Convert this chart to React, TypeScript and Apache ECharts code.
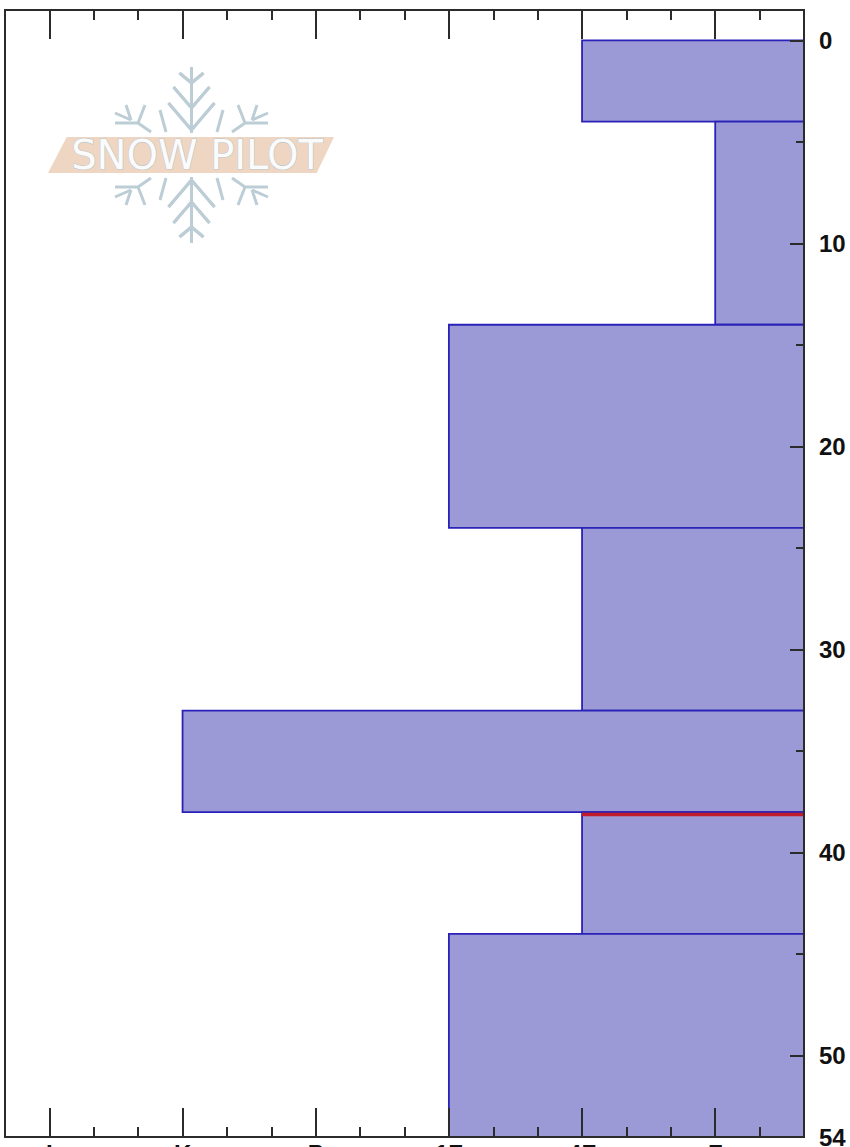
import React, { useEffect, useRef } from "react";
import * as echarts from "echarts";

// hardness scale: F=1, 4F=2, 1F=3, P=4, K=5, I=6 (minor ticks every third of a step)
const hardnessLabels = ["F", "4F", "1F", "P", "K", "I"];
const hardnessMajor = [1, 2, 3, 4, 5, 6];
const hardnessMinor = [1 / 3, 2 / 3, 4 / 3, 5 / 3, 7 / 3, 8 / 3, 10 / 3, 11 / 3, 13 / 3, 14 / 3, 16 / 3, 17 / 3, 19 / 3];
const hardnessMin = 1 / 3;
const hardnessMax = 19 / 3;

// layers: hardness, top depth, bottom depth
const layerHardness = [2, 1, 3, 2, 5, 2, 3];
const layerTop = [0, 4, 14, 24, 33, 38, 44];
const layerBottom = [4, 14, 24, 33, 38, 44, 54];

const depthLabels = [0, 10, 20, 30, 40, 50, 54];
const depthMajor = [0, 10, 20, 30, 40, 50];
const depthMinor = [5, 15, 25, 35, 45];
const depthMin = -1.5;
const depthMax = 54;

const criticalDepth = 38.12;
const criticalHardness = 2;

const FONT = "'Liberation Sans', Arial, sans-serif";
const AXIS_COLOR = "#2b2b2b";

// snowflake quarter, relative to its centre
const FLAKE = [
  [[0, -22], [0, -88]],
  [[-23, -52], [0, -25], [23, -52]],
  [[-18, -68], [0, -47], [18, -68]],
  [[-12, -82], [0, -72], [12, -82]],
  [[31.5, -45], [25.5, -23]],
  [[40.5, -23], [53.5, -32], [76.5, -32]],
  [[46.5, -50], [53.5, -32]],
  [[65.5, -50], [60.5, -35]],
  [[76.5, -42], [60.5, -35]],
];
const FLAKE_X = 191.5;
const FLAKE_Y = 155;

function flakeGroup(sx: number, sy: number) {
  return {
    type: "group",
    x: FLAKE_X,
    y: FLAKE_Y,
    scaleX: sx,
    scaleY: sy,
    silent: true,
    children: FLAKE.map((points) => ({
      type: "polyline",
      shape: { points },
      style: { stroke: "#bccdd6", lineWidth: 3, fill: "none" },
    })),
  };
}

function xAxisBase(position: string, values: number[], len: number, labels: boolean) {
  return {
    type: "value",
    position,
    inverse: true,
    min: hardnessMin,
    max: hardnessMax,
    z: 5,
    splitLine: { show: false },
    axisLine: { show: true, onZero: false, lineStyle: { color: AXIS_COLOR, width: 2 } },
    axisTick: { show: true, inside: true, length: len, customValues: values, lineStyle: { color: AXIS_COLOR, width: 2 } },
    axisLabel: labels
      ? {
          show: true,
          customValues: hardnessMajor,
          margin: 4,
          hideOverlap: false,
          color: "#111111",
          fontFamily: FONT,
          fontWeight: "bold",
          fontSize: 24,
          formatter: (v: number) => hardnessLabels[Math.round(v) - 1] ?? "",
        }
      : { show: false },
  };
}

function yAxisBase(position: string, values: number[], len: number, labels: boolean) {
  return {
    type: "value",
    position,
    inverse: true,
    min: depthMin,
    max: depthMax,
    z: 5,
    splitLine: { show: false },
    axisLine: { show: true, onZero: false, lineStyle: { color: AXIS_COLOR, width: 2 } },
    axisTick: { show: len > 0, inside: true, length: len, customValues: values, lineStyle: { color: AXIS_COLOR, width: 2 } },
    axisLabel: labels
      ? {
          show: true,
          customValues: depthLabels,
          margin: 15,
          hideOverlap: false,
          color: "#111111",
          fontFamily: FONT,
          fontWeight: "bold",
          fontSize: 24,
          align: "left",
        }
      : { show: false },
  };
}

export default function App() {
  const ref = useRef<HTMLDivElement>(null);
  useEffect(() => {
    const chart = echarts.init(ref.current!, null, { renderer: "svg" });
    chart.setOption({
      animation: false,
      backgroundColor: "#ffffff",
      grid: { left: 5, right: 46, top: 10, bottom: 10, containLabel: false, outerBoundsMode: "none" },
      xAxis: [
        xAxisBase("bottom", hardnessMajor, 29, true),
        xAxisBase("bottom", hardnessMinor, 10, false),
        xAxisBase("top", hardnessMajor, 29, false),
        xAxisBase("top", hardnessMinor, 10, false),
      ],
      yAxis: [
        yAxisBase("right", depthMajor, 14, true),
        yAxisBase("right", depthMinor, 8, false),
        yAxisBase("left", [], 0, false),
      ],
      series: [
        {
          type: "custom",
          xAxisIndex: 0,
          yAxisIndex: 0,
          z: 2,
          clip: false,
          encode: { x: 0, y: [1, 2] },
          data: layerHardness.map((h, i) => [h, layerTop[i], layerBottom[i]]),
          renderItem: (_: any, api: any) => {
            const a = api.coord([api.value(0), api.value(1)]);
            const b = api.coord([hardnessMin, api.value(2)]);
            return {
              type: "rect",
              shape: { x: a[0], y: a[1], width: b[0] - a[0], height: b[1] - a[1] },
              style: { fill: "#9b99d6", stroke: "#2a22b8", lineWidth: 1.8 },
            };
          },
        },
        {
          type: "line",
          xAxisIndex: 0,
          yAxisIndex: 0,
          z: 3,
          symbol: "none",
          lineStyle: { color: "#c01c2c", width: 3.5 },
          data: [
            [criticalHardness, criticalDepth],
            [hardnessMin, criticalDepth],
          ],
        },
      ],
      graphic: [
        flakeGroup(1, 1),
        flakeGroup(-1, 1),
        flakeGroup(1, -1),
        flakeGroup(-1, -1),
        {
          type: "polygon",
          silent: true,
          shape: { points: [[66.7, 137], [334, 137], [316.7, 173], [48, 173]] },
          style: { fill: "#eed6c2" },
        },
        {
          type: "text",
          silent: true,
          x: 197,
          y: 155,
          style: {
            text: "SNOW PILOT",
            fontFamily: "'DejaVu Sans', sans-serif",
            fontSize: 40,
            align: "center",
            verticalAlign: "middle",
            fill: "#fbfbfb",
            stroke: "#c0c8cd",
            lineWidth: 1.2,
          },
        },
      ],
    });
    return () => chart.dispose();
  }, []);
  return <div ref={ref} style={{ position: "absolute", left: 0, top: 0, width: 850, height: 1147 }} />;
}
